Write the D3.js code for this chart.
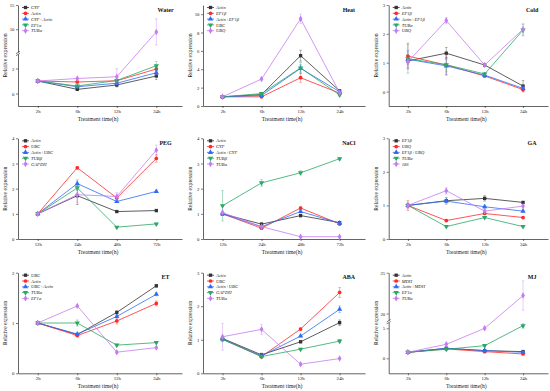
<!DOCTYPE html>
<html><head><meta charset="utf-8">
<script src="https://cdn.jsdelivr.net/npm/d3@7"></script>
<style>body{margin:0;background:#fff}svg{display:block}</style>
</head><body><svg id="c" width="550" height="391"></svg>
<script>
// ---------- DATA ----------
const timesShort = ["2h","6h","12h","24h"];
const timesLong = ["12h","24h","48h","72h"];

const waterGenes = ["CYP","Actin","CYP+Actin","EF1α","TUBα"];
const waterMean = [[1,0.33,0.68,1.4],[1,0.92,1.02,1.96],[1,0.54,0.82,1.66],[1,0.6,1.04,2.22],[1,1.2,1.34,9.45]];
const waterErr  = [[0.05,0.05,0.15,0.3],[0.05,0.08,0.1,0.25],[0.05,0.05,0.1,0.2],[0.05,0.05,0.1,0.35],[0.05,0.05,0.65,2.7]];
const waterTicks = [0,2,10,15];
const waterSegs = [[-1,3.2],[5,15]];

const heatGenes = ["Actin","EF1β","Actin+EF1β","UBC","UBQ"];
const heatMean = [[1,1.25,5.48,1.65],[1,1.0,3.08,1.4],[1,1.15,4.1,1.55],[1,1.35,4.15,1.2],[1,2.94,9.5,1.45]];
const heatErr  = [[0.05,0.1,0.6,0.15],[0.05,0.05,0.5,0.1],[0.05,0.05,0.4,0.1],[0.05,0.1,0.6,0.1],[0.05,0.1,0.5,0.1]];
const heatTicks = [0,2,4,6,8,10];
const heatSegs = [[0,11]];

const coldGenes = ["Actin","EF1β","Actin+EF1β","TUBα","UBQ"];
const coldMean = [[1.06,1.33,0.92,0.19],[1.23,0.92,0.54,0.07],[1.12,0.89,0.57,0.11],[1.14,0.93,0.61,2.13],[1.03,2.46,0.92,2.16]];
const coldErr  = [[0.1,0.2,0.05,0.2],[0.45,0.35,0.05,0.05],[0.3,0.3,0.05,0.05],[0.5,0.25,0.05,0.2],[0.1,0.1,0.05,0.2]];
const coldTicks = [0,1,2,3];
const coldSegs = [[-0.5,3]];

const pegGenes = ["Actin","UBC","Actin+UBC","TUBβ","GAPDH"];
const pegMean = [[1,1.72,1.09,1.13],[1,2.83,1.63,3.2],[1,2.2,1.49,1.89],[1,2.03,0.47,0.6],[1,1.76,1.69,3.53]];
const pegErr  = [[0.02,0.35,0.03,0.05],[0.02,0.05,0.05,0.15],[0.02,0.15,0.03,0.05],[0.02,0.1,0.03,0.03],[0.02,0.3,0.15,0.2]];
const pegTicks = [0,1,2,3,4];
const pegSegs = [[0,4]];

const naclGenes = ["Actin","CYP","Actin+CYP","TUBβ","TUBα"];
const naclMean = [[1,0.59,0.93,0.65],[1,0.43,1.23,0.6],[1,0.49,1.09,0.63],[1.32,2.23,2.63,3.19],[1.05,0.49,0.09,0.09]];
const naclErr  = [[0.05,0.05,0.05,0.05],[0.05,0.05,0.05,0.05],[0.05,0.05,0.05,0.05],[0.6,0.13,0.08,0.05],[0.1,0.03,0.02,0.02]];
const naclTicks = [0,1,2,3,4];
const naclSegs = [[0,4]];

const gaGenes = ["EF1β","UBQ","EF1β+UBQ","TUBα","18S"];
const gaMean = [[1,1.14,1.21,1.09],[1,0.55,0.76,0.64],[1,1.13,0.96,0.83],[1,0.37,0.64,0.37],[1,1.44,0.83,0.98]];
const gaErr  = [[0.05,0.1,0.08,0.03],[0.15,0.03,0.03,0.03],[0.05,0.05,0.05,0.03],[0.05,0.03,0.03,0.03],[0.1,0.1,0.05,0.03]];
const gaTicks = [0,1,2,3];
const gaSegs = [[0,3]];

const etGenes = ["UBC","Actin","UBC+Actin","TUBα","EF1α"];
const etMean = [[1,0.77,1.21,1.74],[1,0.75,1.04,1.39],[1,0.78,1.13,1.57],[1,1.0,0.56,0.61],[1,1.34,0.42,0.51]];
const etErr  = [[0.02,0.02,0.03,0.03],[0.02,0.02,0.06,0.05],[0.02,0.02,0.03,0.03],[0.02,0.06,0.02,0.02],[0.02,0.02,0.02,0.02]];
const etTicks = [0,1,2];
const etSegs = [[0,2]];

const abaGenes = ["Actin","UBC","Actin+UBC","GAPDH","TUBα"];
const abaMean = [[1.04,0.55,0.94,1.51],[1.02,0.5,1.32,2.41],[1.02,0.52,1.11,1.91],[1.01,0.5,0.72,0.96],[1.09,1.31,0.27,0.44]];
const abaErr  = [[0.05,0.05,0.03,0.08],[0.05,0.05,0.03,0.15],[0.05,0.05,0.03,0.1],[0.05,0.05,0.03,0.05],[0.4,0.15,0.03,0.03]];
const abaTicks = [0,1,2,3];
const abaSegs = [[0,3]];

const mjGenes = ["Actin","MDH","Actin+MDH","EF1α","TUBα"];
const mjMean = [[1,1.67,1.28,1.11],[1,1.56,1.11,0.72],[1,1.67,1.28,1.0],[1,1.5,2.11,5.44],[1,2.33,5.0,22.2]];
const mjErr  = [[0.05,0.1,0.1,0.1],[0.05,0.1,0.1,0.1],[0.05,0.1,0.1,0.1],[0.05,0.1,0.2,0.4],[0.05,0.1,0.2,1.8]];
const mjTicks = [0,5,20,25];
const mjSegs = [[-2.5,6.1],[19,25]];

// ---------- LAYOUT / STYLE ----------
const colors = ["#333333","#ff2a2a","#2f6cf5","#2aa866","#c47cf0"];
const colX = [[18,182],[203,365],[388.7,548]];
const rowY = [[5,106],[138.3,239],[272.7,373.3]];
const font = "'Liberation Serif','Times New Roman',serif";

const panels = [
 {name:"Water", genes:waterGenes, mean:waterMean, err:waterErr, times:timesShort, ticks:waterTicks, segs:waterSegs, brk:0.52, c:0, r:0},
 {name:"Heat", genes:heatGenes, mean:heatMean, err:heatErr, times:timesShort, ticks:heatTicks, segs:heatSegs, c:1, r:0},
 {name:"Cold", genes:coldGenes, mean:coldMean, err:coldErr, times:timesShort, ticks:coldTicks, segs:coldSegs, c:2, r:0},
 {name:"PEG", genes:pegGenes, mean:pegMean, err:pegErr, times:timesLong, ticks:pegTicks, segs:pegSegs, c:0, r:1},
 {name:"NaCl", genes:naclGenes, mean:naclMean, err:naclErr, times:timesLong, ticks:naclTicks, segs:naclSegs, c:1, r:1},
 {name:"GA", genes:gaGenes, mean:gaMean, err:gaErr, times:timesShort, ticks:gaTicks, segs:gaSegs, c:2, r:1},
 {name:"ET", genes:etGenes, mean:etMean, err:etErr, times:timesShort, ticks:etTicks, segs:etSegs, c:0, r:2},
 {name:"ABA", genes:abaGenes, mean:abaMean, err:abaErr, times:timesShort, ticks:abaTicks, segs:abaSegs, c:1, r:2},
 {name:"MJ", genes:mjGenes, mean:mjMean, err:mjErr, times:timesShort, ticks:mjTicks, segs:mjSegs, brk:0.513, c:2, r:2}
];

const symTypes = [d3.symbolSquare, d3.symbolCircle, d3.symbolTriangle, d3.symbolTriangle, d3.symbolDiamond];
const symSizes = [11, 11, 12, 12, 12];
const symRot = [0,0,0,180,0];

const svg = d3.select("#c");
svg.append("rect").attr("width",550).attr("height",391).attr("fill","#fff");

function styleAxis(sel){
  sel.select(".domain").attr("stroke","#222").attr("stroke-width",0.7);
  sel.selectAll(".tick line").attr("stroke","#222").attr("stroke-width",0.6);
  sel.selectAll(".tick text").attr("font-family",font).attr("font-size","4.8px").attr("fill","#222");
}

panels.forEach(p => {
  const [x0,x1] = colX[p.c];
  const [yt,yb] = rowY[p.r];
  const g = svg.append("g");
  const x = d3.scaleLinear().domain([-0.5,3.65]).range([x0,x1]);
  let segScales;
  if (p.segs.length === 1) {
    segScales = [d3.scaleLinear().domain(p.segs[0]).range([yb,yt])];
  } else {
    const ym = yb - (yb-yt)*p.brk;
    segScales = [d3.scaleLinear().domain(p.segs[0]).range([yb,ym]),
                 d3.scaleLinear().domain(p.segs[1]).range([ym,yt])];
  }
  const y = v => {
    if (segScales.length === 1 || v <= p.segs[0][1]) return segScales[0](v);
    if (v < p.segs[1][0]) return segScales[1](p.segs[1][0]);
    return segScales[1](v);
  };

  // axes
  segScales.forEach(s => {
    const dom = s.domain();
    const tv = p.ticks.filter(t => t >= dom[0] && t <= dom[1]);
    g.append("g").attr("transform",`translate(${x0},0)`)
      .call(d3.axisLeft(s).tickValues(tv).tickSize(2).tickSizeOuter(0).tickPadding(1.5).tickFormat(d3.format("d")))
      .call(styleAxis);
  });
  g.append("g").attr("transform",`translate(0,${yb})`)
    .call(d3.axisBottom(x).tickValues([0,1,2,3]).tickFormat(i => p.times[i]).tickSize(2).tickSizeOuter(0).tickPadding(1.2))
    .call(styleAxis);

  if (segScales.length > 1) {
    const ym = segScales[0].range()[1];
    g.append("rect").attr("x",x0-2).attr("y",ym-1).attr("width",4).attr("height",2).attr("fill","#fff");
    [-1,1].forEach(d => g.append("line").attr("x1",x0-2).attr("x2",x0+2)
      .attr("y1",ym+d+1.2).attr("y2",ym+d-1.2).attr("stroke","#222").attr("stroke-width",0.6));
  }

  // series
  p.genes.forEach((gene,i) => {
    const col = colors[i];
    const vals = p.mean[i];
    g.append("path").datum(vals)
      .attr("d", d3.line().x((d,j)=>x(j)).y(d=>y(d)))
      .attr("fill","none").attr("stroke",col).attr("stroke-width",0.8);
    vals.forEach((m,j) => {
      const e = p.err[i][j];
      const xa = x(j), ya = y(m+e), yb2 = y(m-e);
      const eg = g.append("g").attr("stroke",col).attr("stroke-width",0.5).attr("opacity",0.75);
      eg.append("line").attr("x1",xa).attr("x2",xa).attr("y1",ya).attr("y2",yb2);
      eg.append("line").attr("x1",xa-1.3).attr("x2",xa+1.3).attr("y1",ya).attr("y2",ya);
      eg.append("line").attr("x1",xa-1.3).attr("x2",xa+1.3).attr("y1",yb2).attr("y2",yb2);
    });
    g.selectAll(null).data(vals).enter().append("path")
      .attr("d", d3.symbol().type(symTypes[i]).size(symSizes[i]))
      .attr("transform",(d,j)=>`translate(${x(j)},${y(d)}) rotate(${symRot[i]})`)
      .attr("fill",col);

    // legend
    const ly = yt + 2.5 + i*5.8;
    const lx = x0 + 4;
    g.append("line").attr("x1",lx).attr("x2",lx+7).attr("y1",ly).attr("y2",ly)
      .attr("stroke",col).attr("stroke-width",0.8);
    g.append("path").attr("d", d3.symbol().type(symTypes[i]).size(symSizes[i]))
      .attr("transform",`translate(${lx+3.5},${ly}) rotate(${symRot[i]})`).attr("fill",col);
    g.append("text").attr("x",lx+9).attr("y",ly).attr("dy","0.35em")
      .attr("font-family",font).attr("font-style","italic").attr("font-size","4.6px").attr("fill","#222")
      .text(gene);
  });

  // titles
  g.append("text").attr("x",x0+(x1-x0)*0.9).attr("y",yt+6.5).attr("text-anchor","middle")
    .attr("font-family",font).attr("font-weight","bold").attr("font-size","6px").attr("fill","#111").text(p.name);
  g.append("text").attr("transform",`translate(${x0-11},${(yt+yb)/2}) rotate(-90)`).attr("text-anchor","middle")
    .attr("font-family",font).attr("font-size","5.6px").attr("fill","#222").text("Relative expression");
  g.append("text").attr("x",(x0+x1)/2-2).attr("y",yb+14.5).attr("text-anchor","middle")
    .attr("font-family",font).attr("font-size","5.6px").attr("fill","#222").text("Treatment time(h)");
});
</script></body></html>
